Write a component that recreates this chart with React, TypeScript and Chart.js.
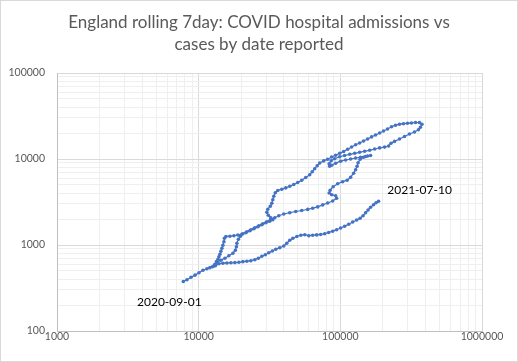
import React, { useEffect, useRef } from 'react';
import { Chart, registerables } from 'chart.js';

Chart.register(...registerables);

const titleLines = ['England rolling 7day: COVID hospital admissions vs', 'cases by date reported'];
const startLabel = '2020-09-01';
const endLabel = '2021-07-10';
const xTickLabels = ['1000', '10000', '100000', '1000000'];
const yTickLabels = ['100', '1000', '10000', '100000'];

// Rolling 7-day cases by date reported (x) — daily path from 2020-09-01 to 2021-07-10
const cases = [
  7790, 8270, 8830, 9420, 10050, 10720, 11440, 12010, 12510, 12920,
  13460, 14350, 15320, 16340, 17440, 18160, 18460, 18610, 19070, 19700,
  20510, 21880, 23350, 24920, 26590, 28370, 30270, 32290, 34460, 36770,
  39880, 43950, 48440, 53400, 58840, 63810, 69210, 75060, 81400, 88280,
  94170, 92670, 86840, 83400, 84770, 88990, 95720, 103800, 111700, 118200,
  124100, 128200, 131300, 133500, 137900, 145900, 155700, 163500, 150800, 139000,
  128200, 118200, 109000, 100500, 92670, 86840, 84070, 83400, 86150, 91180,
  99040, 107200, 116500, 126300, 136800, 148500, 161100, 174700, 189400, 205400,
  219200, 227900, 241300, 261600, 283700, 307600, 333600, 355900, 367700, 376800,
  361800, 339100, 317700, 297800, 279100, 261600, 245200, 229800, 215300, 201800,
  189400, 177300, 166100, 155700, 145900, 136800, 128200, 120100, 112600, 105500,
  99040, 92670, 86840, 81400, 76280, 71490, 68650, 65920, 63310, 60790,
  56960, 53400, 50040, 46900, 43950, 41190, 38600, 36180, 34740, 33910,
  33370, 32830, 32040, 30760, 30270, 31010, 32290, 33370, 31770, 29780,
  27910, 26160, 24520, 22980, 21530, 20180, 18910, 17730, 16610, 15570,
  15200, 15080, 14830, 14590, 14350, 14130, 13900, 13680, 13350, 13020,
  12710, 13130, 13900, 14830, 15820, 16890, 18010, 19220, 20510, 21880,
  23350, 24920, 26370, 27910, 29540, 31270, 33090, 35030, 37370, 39880,
  41860, 43950, 46230, 49320, 52620, 56140, 59910, 63810, 68100, 72660,
  77520, 82720, 88280, 94170, 100500, 107200, 114600, 122300, 130500, 137900,
  144700, 150800, 157000, 163500, 171600, 178700, 186100,
];

// Rolling 7-day hospital admissions (y)
const admissions = [
  377, 395, 422, 446, 476, 509, 530, 545, 559, 582,
  631, 666, 702, 751, 803, 870, 956, 1049, 1168, 1266,
  1353, 1428, 1506, 1589, 1677, 1769, 1866, 1995, 2077, 2191,
  2293, 2374, 2452, 2519, 2594, 2679, 2773, 2926, 3078, 3248,
  3502, 3744, 3846, 4025, 4338, 4764, 5162, 5445, 5668, 6143,
  6839, 7509, 8249, 9058, 9947, 10490, 10840, 10980, 10690, 10490,
  10270, 10000, 9737, 9428, 8939, 8472, 8249, 8818, 9555, 10080,
  10630, 10980, 11340, 11650, 11960, 12320, 12620, 13070, 13460, 13750,
  14160, 15260, 16020, 17080, 18260, 19530, 20610, 21910, 23430, 25400,
  26570, 26570, 26220, 26010, 25730, 25400, 24720, 23750, 22330, 21160,
  20050, 19010, 18070, 17080, 16190, 15350, 14670, 13790, 13000, 12220,
  11680, 11070, 10550, 9947, 9504, 8986, 8359, 7714, 7119, 6568,
  6094, 5668, 5330, 5052, 4827, 4613, 4455, 4302, 4056, 3693,
  3364, 3062, 2827, 2608, 2407, 2221, 2077, 1969, 1891, 1817,
  1722, 1632, 1547, 1467, 1390, 1335, 1307, 1283, 1266, 1256,
  1200, 1092, 995, 918, 847, 782, 731, 684, 640, 598,
  567, 574, 606, 614, 618, 621, 624, 629, 640, 648,
  657, 675, 702, 741, 771, 814, 852, 894, 930, 974,
  1049, 1137, 1200, 1256, 1300, 1318, 1283, 1300, 1311, 1325,
  1353, 1398, 1447, 1506, 1576, 1654, 1746, 1851, 1953, 2049,
  2191, 2374, 2553, 2751, 2942, 3104, 3231,
];

function gridValues(labels: string[]): number[] {
  const decades = labels.map(Number);
  const out: number[] = [];
  decades.forEach((d, i) => {
    out.push(d);
    if (i < decades.length - 1) {
      for (let k = 2; k <= 9; k++) out.push(d * k);
    }
  });
  return out;
}

const xGrid = gridValues(xTickLabels);
const yGrid = gridValues(yTickLabels);
const xMajor = xTickLabels.map(Number);
const yMajor = yTickLabels.map(Number);

const FONT = 'Lato, "Open Sans", "Noto Sans", sans-serif';

const annotationPlugin = {
  id: 'dateLabels',
  afterDatasetsDraw(chart: any) {
    const { ctx, scales } = chart;
    const xs = scales.x;
    const ys = scales.y;
    const n = cases.length - 1;
    ctx.save();
    ctx.font = `12px ${FONT}`;
    ctx.fillStyle = '#000000';
    ctx.textAlign = 'center';
    ctx.textBaseline = 'middle';
    const sx = xs.getPixelForValue(cases[0]);
    const sy = ys.getPixelForValue(admissions[0]);
    ctx.fillText(startLabel, sx - 14, sy + 21);
    const ex = xs.getPixelForValue(cases[n]);
    const ey = ys.getPixelForValue(admissions[n]);
    ctx.fillText(endLabel, ex + 41, ey - 11.5);
    ctx.restore();
  },
  afterDraw(chart: any) {
    const { ctx, width, height } = chart;
    ctx.save();
    // chart title, centred on the whole chart area
    ctx.font = `17px ${FONT}`;
    ctx.fillStyle = '#595959';
    ctx.textAlign = 'center';
    ctx.textBaseline = 'middle';
    titleLines.forEach((line, i) => {
      ctx.fillText(line, width / 2, 23 + i * 22);
    });
    ctx.strokeStyle = '#d9d9d9';
    ctx.lineWidth = 1;
    ctx.strokeRect(0.5, 0.5, width - 1, height - 1);
    ctx.restore();
  },
};

export default function App() {
  const canvasRef = useRef<HTMLCanvasElement | null>(null);

  useEffect(() => {
    document.body.style.margin = '0';
    const canvas = canvasRef.current;
    if (!canvas) return;
    const points = cases.map((c, i) => ({ x: c, y: admissions[i] }));
    const chart = new Chart(canvas, {
      type: 'scatter',
      data: {
        datasets: [
          {
            data: points,
            showLine: true,
            borderColor: '#4472C4',
            backgroundColor: '#4472C4',
            borderWidth: 1.25,
            pointRadius: 1.8,
            pointBorderWidth: 0,
            pointBackgroundColor: '#4472C4',
            tension: 0,
          },
        ],
      },
      options: {
        responsive: false,
        animation: false,
        devicePixelRatio: 1,
        layout: { padding: { left: 0, right: 36, top: 73, bottom: 0 } },
        plugins: {
          legend: { display: false },
          tooltip: { enabled: false },
          title: { display: false },
        },
        scales: {
          x: {
            type: 'logarithmic',
            min: 1000,
            max: 1000000,
            afterBuildTicks: (s: any) => {
              s.ticks = xGrid.map((v) => ({ value: v }));
            },
            afterFit: (s: any) => {
              s.height = 31;
            },
            ticks: {
              autoSkip: false,
              maxRotation: 0,
              minRotation: 0,
              padding: 0,
              color: '#595959',
              font: { family: FONT, size: 10.5, lineHeight: 1 },
              callback: (v: any) => (xMajor.includes(Number(v)) ? String(v) : ''),
            },
            grid: {
              drawTicks: false,
              lineWidth: 1,
              color: (c: any) => (c.tick && xMajor.includes(c.tick.value) ? '#d9d9d9' : '#efefef'),
            },
            border: { color: '#bfbfbf' },
          },
          y: {
            type: 'logarithmic',
            min: 100,
            max: 100000,
            afterBuildTicks: (s: any) => {
              s.ticks = yGrid.map((v) => ({ value: v }));
            },
            afterFit: (s: any) => {
              s.width = 57;
            },
            ticks: {
              autoSkip: false,
              padding: 12,
              color: '#595959',
              font: { family: FONT, size: 10.5, lineHeight: 1 },
              callback: (v: any) => (yMajor.includes(Number(v)) ? String(v) : ''),
            },
            grid: {
              drawTicks: false,
              lineWidth: 1,
              color: (c: any) => (c.tick && yMajor.includes(c.tick.value) ? '#d9d9d9' : '#efefef'),
            },
            border: { color: '#bfbfbf' },
          },
        },
      },
      plugins: [annotationPlugin],
    } as any);
    return () => chart.destroy();
  }, []);

  return (
    <div style={{ position: 'absolute', left: 0, top: 0, width: 518, height: 362, background: '#ffffff' }}>
      <canvas ref={canvasRef} width={518} height={362} style={{ display: 'block' }} />
    </div>
  );
}
